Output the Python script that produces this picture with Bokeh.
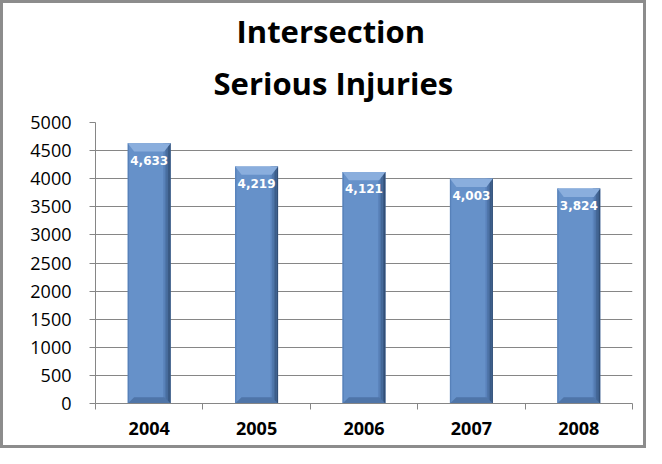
from bokeh.plotting import figure
from bokeh.models import FixedTicker, Title, ColumnDataSource, LabelSet, Range1d
from bokeh.core.properties import value
from bokeh.embed import file_html
from bokeh.resources import INLINE

years = ["2004", "2005", "2006", "2007", "2008"]
injuries = [4633, 4219, 4121, 4003, 3824]
labels = ["4,633", "4,219", "4,121", "4,003", "3,824"]
y_ticks = [0, 500, 1000, 1500, 2000, 2500, 3000, 3500, 4000, 4500, 5000]
title_lines = ["Intersection", "Serious Injuries"]

xs = list(range(len(years)))
W = 0.40
half = W / 2

p = figure(width=646, height=448, output_backend="svg", toolbar_location=None,
           x_range=Range1d(-0.5, len(years) - 0.5), y_range=Range1d(0, y_ticks[-1]),
           min_border_left=92, min_border_right=17, min_border_top=119, min_border_bottom=48,
           background_fill_color="white", border_fill_color="white", title=None)
p.outline_line_color = None
p.styles = {"border": "3px solid #8c8c8c", "box-sizing": "border-box"}

# later-added titles sit further from the plot
p.add_layout(Title(text=title_lines[1], align="left", offset=118, text_font="Open Sans",
                   text_font_size="31px", text_font_style="bold", text_color="black",
                   standoff=37), "above")
p.add_layout(Title(text=title_lines[0], align="left", offset=141, text_font="Open Sans",
                   text_font_size="31px", text_font_style="bold", text_color="black",
                   standoff=-20), "above")

src = ColumnDataSource(dict(x=xs, top=injuries, label=labels))

# bar body
p.vbar(x="x", top="top", bottom=0, width=W, source=src, fill_color="#6691c9", line_color=None)
# left edge shade
p.vbar(x=[x - half + 0.006 for x in xs], top=injuries, bottom=0, width=0.012,
       fill_color="#5781b9", line_color=None)
# right side darker shading
shades = ["#5b84bc", "#4f76ab", "#446898", "#3a5a85", "#324f76"]
for i, c in enumerate(shades):
    off = half - 0.07 + i * 0.014
    p.vbar(x=[x + off + 0.007 for x in xs], top=injuries, bottom=0, width=0.014,
           fill_color=c, line_color=None)
# top bevel (lighter trapezoid)
top_xs = [[x - half, x + half, x + half - 0.06, x - half + 0.06] for x in xs]
top_ys = [[v, v, v - 150, v - 150] for v in injuries]
p.patches(top_xs, top_ys, fill_color="#8aaedd", line_color=None)
# bottom bevel
bot_xs = [[x - half, x + half, x + half - 0.06, x - half + 0.06] for x in xs]
bot_ys = [[0, 0, 110, 110] for _ in injuries]
p.patches(bot_xs, bot_ys, fill_color="#4f75a8", line_color=None)

p.add_layout(LabelSet(x="x", y="top", text="label", source=src, text_align="center",
                      text_baseline="middle", y_offset=-17, text_color="white",
                      text_font=value("DejaVu Sans"), text_font_style="bold",
                      text_font_size="12px"))

# axes
p.yaxis.ticker = FixedTicker(ticks=y_ticks)
p.yaxis.major_label_text_font = "Open Sans"
p.yaxis.major_label_text_font_size = "18px"
p.yaxis.major_label_text_color = "black"
p.yaxis.axis_line_color = "#868686"
p.yaxis.major_tick_line_color = "#868686"
p.yaxis.major_tick_out = 6
p.yaxis.major_tick_in = 0
p.yaxis.minor_tick_line_color = None
p.yaxis.major_label_standoff = 18

p.xaxis.ticker = FixedTicker(ticks=xs, minor_ticks=[x - 0.5 for x in xs] + [len(xs) - 0.5])
p.xaxis.major_label_overrides = {i: y for i, y in enumerate(years)}
p.xaxis.major_label_text_font = "Open Sans"
p.xaxis.major_label_text_font_style = "bold"
p.xaxis.major_label_text_font_size = "18px"
p.xaxis.major_label_text_color = "black"
p.xaxis.major_tick_line_color = None
p.xaxis.minor_tick_line_color = "#868686"
p.xaxis.minor_tick_out = 6
p.xaxis.minor_tick_in = 0
p.xaxis.axis_line_color = "#868686"
p.xaxis.major_label_standoff = 12

p.xgrid.grid_line_color = None
p.ygrid.grid_line_color = "#868686"
p.ygrid.ticker = FixedTicker(ticks=y_ticks)

open("out.html", "w").write(file_html(p, INLINE))
